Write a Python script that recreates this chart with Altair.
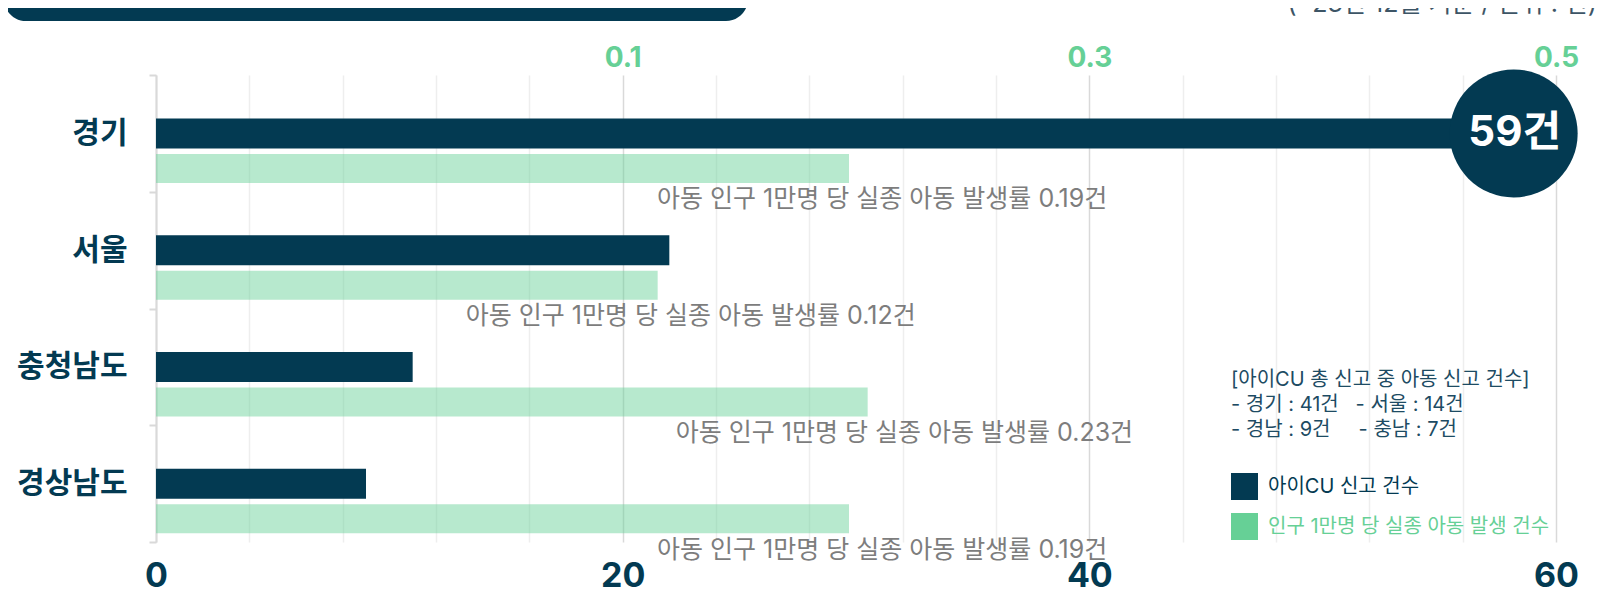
import altair as alt
import pandas as pd

# ---- data ----
regions = ["경기", "서울", "충청남도", "경상남도"]
report_counts = [59, 22, 11, 9]                 # 아이CU 신고 건수 (bottom axis)
rate_bar = [0.197, 0.115, 0.205, 0.197]         # green bar lengths on the top axis
rate_label = [0.19, 0.12, 0.23, 0.19]           # printed rates
note_regions = ["경기", "서울", "경남", "충남"]
note_counts = [41, 14, 9, 7]
series = ["아이CU 신고 건수", "인구 1만명 당 실종 아동 발생 건수"]
top_ticks = [0.1, 0.3, 0.5]
bottom_ticks = list(range(0, 61, 4))
subtitle = "(~23년 12월 기준 / 단위 : 건)"

NAVY = "#033a52"
GREEN = "#66d096"
FONT = "Inter, 'Noto Sans CJK KR', sans-serif"

df = pd.DataFrame({"region": regions, "count": report_counts,
                   "rate": rate_bar, "rate_label": rate_label})

nb = "\u00a0"
note_lines = [
    "[아이CU 총 신고 중 아동 신고 건수]",
    f"- {note_regions[0]} : {note_counts[0]}건" + nb * 3 + f"- {note_regions[1]} : {note_counts[1]}건",
    f"- {note_regions[2]} : {note_counts[2]}건" + nb * 5 + f"- {note_regions[3]} : {note_counts[3]}건",
]

color_scale = alt.Scale(domain=series, range=[NAVY, GREEN])
legend = alt.Legend(
    orient="none", legendX=1075, legendY=295, title=note_lines,
    titleFont=FONT, titleFontSize=20, titleFontWeight="normal", titleColor="#1d4b63",
    titleLineHeight=25, titlePadding=33, titleLimit=800,
    symbolType="square", symbolSize=729, symbolStrokeWidth=0, symbolOpacity=1,
    labelFont=FONT, labelFontSize=20, labelLimit=800, labelOffset=10,
    labelColor={"expr": f"datum.label == '{series[0]}' ? '{NAVY}' : '{GREEN}'"},
    rowPadding=13,
)

y = alt.Y("region:N", sort=regions, title=None,
          scale=alt.Scale(paddingInner=0, paddingOuter=0),
          axis=alt.Axis(domainColor="#d9d9d9", domainWidth=2, tickColor="#d9d9d9",
                        tickWidth=2, tickSize=7, tickBand="extent", grid=False,
                        labelFont=FONT, labelFontSize=30, labelFontWeight="bold",
                        labelColor=NAVY, labelPadding=22))

x_count = alt.X("count:Q", title=None,
                scale=alt.Scale(domain=[0, 60], nice=False),
                axis=alt.Axis(orient="bottom", values=bottom_ticks,
                              labelExpr="datum.value % 20 == 0 ? datum.label : ''",
                              domain=False, ticks=False, grid=True, labelFlush=False,
                              gridColor={"condition": {"test": "datum.value % 20 == 0", "value": "#d9d9d9"},
                                         "value": "#eeeeee"},
                              gridWidth=1.5, labelFont=FONT, labelFontSize=34,
                              labelFontWeight="bold", labelColor=NAVY, labelPadding=17))

x_rate = alt.X("rate:Q", title=None,
               scale=alt.Scale(domain=[-0.1, 0.5], nice=False, zero=False),
               axis=alt.Axis(orient="top", values=top_ticks, format=".1f",
                             domain=False, ticks=False, grid=False, labelFlush=False,
                             labelFont=FONT, labelFontSize=28, labelFontWeight="bold",
                             labelColor=GREEN, labelPadding=3))

base = alt.Chart(df)

dark = base.transform_calculate(series=f"'{series[0]}'").mark_bar(size=30).encode(
    x=x_count, y=y, color=alt.Color("series:N", scale=color_scale, legend=legend))

top = base.transform_joinaggregate(mx="max(count)").transform_filter("datum.count == datum.mx")
circle = top.mark_circle(size=16384, color=NAVY, opacity=1, xOffset=-19).encode(x=x_count, y=y)
label_max = top.transform_calculate(t="datum.count + '건'").mark_text(
    font=FONT, fontSize=42, fontWeight="bold", color="white", baseline="middle", xOffset=-18
).encode(x=x_count, y=y, text="t:N")

deco = alt.Chart(alt.Data(values=[{"k": 1}]))
banner = deco.mark_rect(color=NAVY, cornerRadius=22).encode(
    x=alt.value(-152), x2=alt.value(592), y=alt.value(-110), y2=alt.value(-54))
sub = deco.mark_text(text=subtitle, align="right", baseline="alphabetic", font=FONT,
                     fontSize=25, color="#3d5566").encode(x=alt.value(1441), y=alt.value(-63))

layer_a = alt.layer(dark, circle, label_max, banner, sub)

green = base.transform_calculate(series=f"'{series[1]}'").mark_bar(size=29, yOffset=35, opacity=0.47).encode(
    x=x_rate, x2=alt.datum(-0.1), y=y, color=alt.Color("series:N", scale=color_scale, legend=legend))
ann = base.transform_calculate(
    txt="'아동 인구 1만명 당 실종 아동 발생률 ' + format(datum.rate_label, '.2f') + '건'"
).mark_text(align="left", baseline="middle", dx=-192, dy=66, font=FONT, fontSize=25,
            color="#7d7d7d").encode(x=x_rate, y=y, text="txt:N")

layer_b = alt.layer(green, ann)

chart = alt.layer(layer_a, layer_b).resolve_scale(x="independent").properties(
    width=1400, height=467,
    autosize=alt.AutoSizeParams(type="none"),
    padding={"left": 148, "top": 67, "right": 42, "bottom": 48},
).configure_view(stroke=None)

chart.save("out.html", embed_options={"renderer": "svg", "actions": False})
